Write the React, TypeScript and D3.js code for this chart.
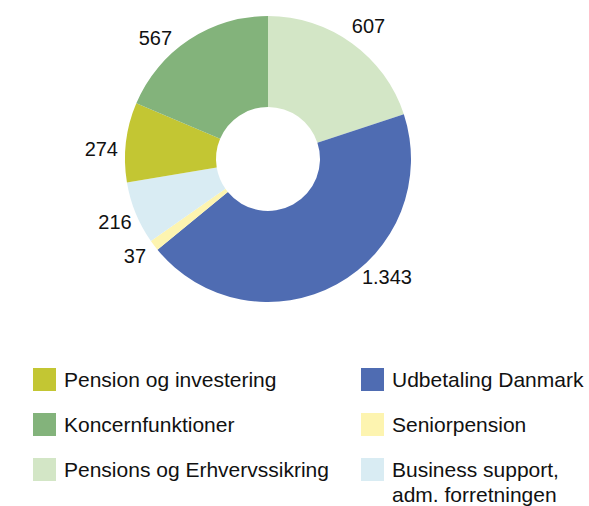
import * as d3 from "d3";

const categories = [
  "Pensions og Erhvervssikring",
  "Udbetaling Danmark",
  "Seniorpension",
  "Business support, adm. forretningen",
  "Pension og investering",
  "Koncernfunktioner",
];
const values = [607, 1343, 37, 216, 274, 567];
const valueLabels = ["607", "1.343", "37", "216", "274", "567"];
const colors = ["#d3e6c6", "#4f6cb2", "#fdf4b0", "#d9ecf3", "#c3c633", "#83b37b"];

// label nudges relative to the outer edge of each slice's middle
const labelNudge: Array<[number, number, string]> = [
  [0, -10, "start"],
  [25, 0, "start"],
  [-8, 18, "end"],
  [-4, 16, "end"],
  [-8, 14, "end"],
  [-17, 5, "end"],
];

// legend order: left column then right column
const legendLeft = [4, 5, 0];
const legendRight = [1, 2, 3];

const width = 589;
const height = 506;
const cx = 268;
const cy = 159;
const outerR = 143;
const innerR = 52;

export default function App() {
  const pie = d3
    .pie<number>()
    .sort(null)
    .value((d) => d);
  const arcs = pie(values);
  const arc = d3.arc<d3.PieArcDatum<number>>().innerRadius(innerR).outerRadius(outerR);

  const fontFamily = "'Liberation Sans', Arial, Helvetica, sans-serif";
  const rowY = [379.5, 424.5, 469.5];

  const legendItem = (idx: number, x: number, y: number) => {
    const lines = categories[idx] === "Business support, adm. forretningen"
      ? ["Business support,", "adm. forretningen"]
      : [categories[idx]];
    return (
      <g key={idx}>
        <rect x={x} y={y - 11.5} width={23} height={23} fill={colors[idx]} />
        <text x={x + 31} y={y + 7.5} fontSize={21} fill="#111" fontFamily={fontFamily}>
          {lines.map((l, i) => (
            <tspan key={i} x={x + 31} dy={i === 0 ? 0 : 25}>
              {l}
            </tspan>
          ))}
        </text>
      </g>
    );
  };

  return (
    <svg
      width={width}
      height={height}
      style={{ position: "absolute", left: 0, top: 0, background: "#fff" }}
    >
      <g transform={`translate(${cx},${cy})`}>
        {arcs.map((a, i) => (
          <path key={i} d={arc(a) ?? ""} fill={colors[i]} />
        ))}
        {arcs.map((a, i) => {
          const mid = (a.startAngle + a.endAngle) / 2;
          const x = Math.sin(mid) * outerR + labelNudge[i][0];
          const y = -Math.cos(mid) * outerR + labelNudge[i][1];
          return (
            <text
              key={"l" + i}
              x={x}
              y={y}
              fontSize={20}
              fill="#111"
              textAnchor={labelNudge[i][2] as any}
              fontFamily={fontFamily}
            >
              {valueLabels[i]}
            </text>
          );
        })}
      </g>
      {legendLeft.map((idx, r) => legendItem(idx, 33, rowY[r]))}
      {legendRight.map((idx, r) => legendItem(idx, 361, rowY[r]))}
    </svg>
  );
}
